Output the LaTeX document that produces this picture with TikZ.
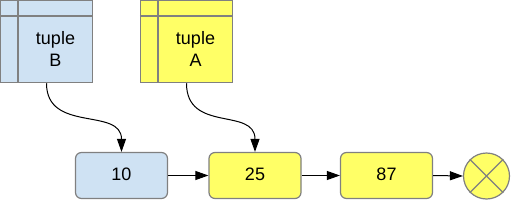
\documentclass[tikz,border=0pt]{standalone}
\usepackage{fontspec}
\setmainfont{Liberation Sans}
\usetikzlibrary{arrows.meta}
\definecolor{lblue}{HTML}{CFE2F3}
\definecolor{lyellow}{HTML}{FFFF66}
\definecolor{bgray}{HTML}{808080}
\begin{document}
\begin{tikzpicture}[x=1pt,y=-1pt,
  tbox/.style={draw=bgray, line width=1.5pt, minimum width=92pt, minimum height=82pt, inner sep=0pt},
  lbox/.style={draw=bgray, line width=1.2pt, rounded corners=6pt, minimum width=92pt, minimum height=46pt, inner sep=0pt, font=\fontsize{18}{22}\selectfont, text height=12.9pt, text depth=2.5pt},
  ttext/.style={align=center, font=\fontsize{18}{22}\selectfont, inner sep=0pt},
  endc/.style={circle, draw=bgray, line width=1.2pt, fill=lyellow, minimum size=46pt, inner sep=0pt},
  arr/.style={-{Triangle[length=13pt,width=9pt]}, line width=1pt, black}]
\useasboundingbox (0,0) rectangle (511,201);
% tuple B
\node[tbox, fill=lblue] (tB) at (46.5,41.5) {};
\draw[bgray, line width=1.5pt] ([xshift=18pt]tB.north west) -- ([xshift=18pt]tB.south west);
\draw[bgray, line width=1.5pt] ([yshift=-16pt]tB.north west) -- ([yshift=-16pt]tB.north east);
\node[ttext] (tBt) at (55.5,49) {tuple\\B};
% tuple A
\node[tbox, fill=lyellow] (tA) at (186.5,41.5) {};
\draw[bgray, line width=1.5pt] ([xshift=18pt]tA.north west) -- ([xshift=18pt]tA.south west);
\draw[bgray, line width=1.5pt] ([yshift=-16pt]tA.north west) -- ([yshift=-16pt]tA.north east);
\node[ttext] (tAt) at (195.5,49) {tuple\\A};
% list nodes
\node[lbox, fill=lblue] (n10) at (121.5,175.5) {10};
\node[lbox, fill=lyellow] (n25) at (255,175.5) {25};
\node[lbox, fill=lyellow] (n87) at (386.5,175.5) {87};
\node[endc] (nil) at (486.5,176) {};
\draw[bgray, line width=1.2pt] (nil.north west) -- (nil.south east);
\draw[bgray, line width=1.2pt] (nil.north east) -- (nil.south west);
% connectors
\draw[arr] (tB.south) .. controls ([yshift=-50pt]tB.south) and ([yshift=45pt]n10.north) .. (n10.north);
\draw[arr] (tA.south) .. controls ([yshift=-50pt]tA.south) and ([yshift=45pt]n25.north) .. (n25.north);
\draw[arr] (n10.east) -- (n25.west);
\draw[arr] (n25.east) -- (n87.west);
\draw[arr] (n87.east) -- (nil.west);
\end{tikzpicture}
\end{document}
